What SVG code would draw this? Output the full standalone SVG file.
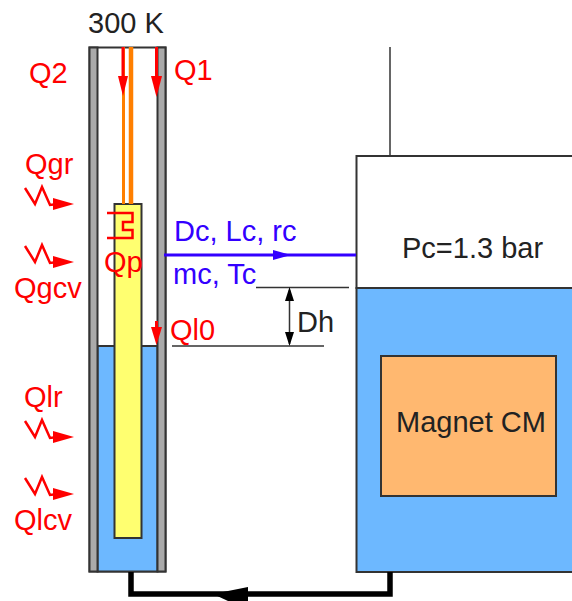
<svg xmlns="http://www.w3.org/2000/svg" width="572" height="601" viewBox="0 0 572 601">
<style>
text{font-family:"Liberation Sans",Arial,sans-serif;font-size:29px}
.r{fill:#ff0000}.b{fill:#3300ff}.k{fill:#222}
.s{stroke:#333;stroke-width:2}
.l{fill:none;stroke:#333;stroke-width:1.5}
.q{fill:none;stroke:#ff0000;stroke-width:2.5}
.o{fill:none;stroke:#ff7f00}
</style>
<defs>
<g id="wiggle"><path class="q" d="M25 -19L35 -3L42 -20L50 -2L58 -3"/><path d="M53 -9L74 -3L53 3Z" fill="#ff0000"/></g>
</defs>
<rect width="572" height="601" fill="#fff"/>
<g id="cryostat">
<rect class="s" x="89.500" y="47.500" width="76" height="524" fill="#fff"/>
<rect class="s" x="97.500" y="346" width="60" height="225.500" fill="#6db8ff"/>
<rect class="s" x="89.500" y="47.500" width="8" height="524" fill="#aaa"/>
<rect class="s" x="157.500" y="47.500" width="8" height="524" fill="#aaa"/>
</g>
<g id="insert">
<rect class="s" x="114.500" y="204" width="27" height="334" fill="#ffff70"/>
<path class="o" stroke-width="3" d="M123.500 47V204"/>
<path class="o" stroke-width="4.500" d="M131 47V204"/>
<path class="q" d="M107 213H132.500V222H123V230H132.500V238H107"/>
</g>
<g id="magnet-vessel">
<rect class="s" x="356.500" y="156" width="230" height="132" fill="#fff"/>
<rect class="s" x="356.500" y="288" width="230" height="284" fill="#6db8ff"/>
<rect class="s" x="381" y="356" width="175" height="140" fill="#ffb870"/>
<path class="l" d="M390 47V156"/>
</g>
<g id="connectors">
<path d="M131 572V594H390V572" fill="none" stroke="#000" stroke-width="5.500"/>
<path d="M248 587V601H228L213 594Z" fill="#000"/>
<path d="M164 255H356" stroke="#3300ff" stroke-width="3" fill="none"/>
<path d="M273 250L291 255L273 260Z" fill="#3300ff"/>
<path class="l" d="M256 287.500H349M172 346H324M289.500 290V344"/>
<path d="M289.500 287L294 301H285ZM289.500 346L294 332H285Z" fill="#000"/>
<path d="M123 47V80" stroke="#ff0000" stroke-width="3"/>
<path d="M118 76H128L123 96Z" fill="#ff0000"/>
<path d="M156.500 47V80" stroke="#ff0000" stroke-width="3"/>
<path d="M151 76H162L156.500 97Z" fill="#ff0000"/>
<path d="M156.500 321V332" stroke="#ff0000" stroke-width="3"/>
<path d="M151 327H162L156.500 345Z" fill="#ff0000"/>
</g>
<g id="heat-in">
<use href="#wiggle" y="207"/>
<use href="#wiggle" y="265"/>
<use href="#wiggle" y="440"/>
<use href="#wiggle" y="497"/>
</g>
<g id="labels">
<text class="k" x="88" y="33">300 K</text>
<text class="r" x="29" y="83">Q2</text>
<text class="r" x="174" y="80">Q1</text>
<text class="r" x="25" y="174">Qgr</text>
<text class="r" x="104" y="272">Qp</text>
<text class="r" x="14" y="298">Qgcv</text>
<text class="r" x="170" y="340">Ql0</text>
<text class="r" x="24" y="407">Qlr</text>
<text class="r" x="14" y="530">Qlcv</text>
<text class="b" x="174" y="241">Dc, Lc, rc</text>
<text class="b" x="173" y="284">mc, Tc</text>
<text class="k" x="297" y="332">Dh</text>
<text class="k" x="402" y="258">Pc=1.3 bar</text>
<text class="k" x="396" y="432">Magnet CM</text>
</g>
</svg>
